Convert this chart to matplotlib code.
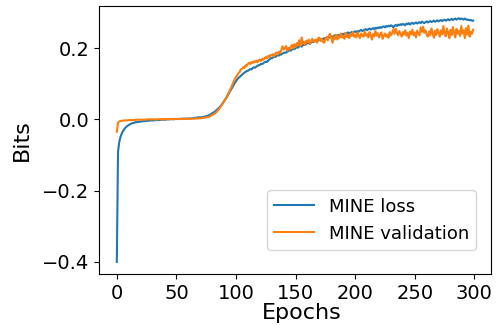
import numpy as np
import matplotlib
matplotlib.use("Agg")
import matplotlib.pyplot as plt

mine_loss = [
    -0.400, -0.092, -0.064, -0.050, -0.041, -0.034, -0.029, -0.024, -0.021, -0.018,
    -0.016, -0.014, -0.012, -0.011, -0.010, -0.009, -0.008, -0.008, -0.007, -0.007,
    -0.006, -0.006, -0.005, -0.005, -0.005, -0.004, -0.004, -0.004, -0.003, -0.003,
    -0.003, -0.003, -0.002, -0.002, -0.002, -0.002, -0.002, -0.001, -0.001, -0.001,
    -0.001, -0.001, 0.000, 0.000, 0.000, 0.000, 0.001, 0.000, 0.001, 0.001,
    0.001, 0.001, 0.001, 0.001, 0.002, 0.001, 0.002, 0.002, 0.002, 0.002,
    0.002, 0.003, 0.002, 0.003, 0.003, 0.004, 0.004, 0.005, 0.005, 0.006,
    0.005, 0.006, 0.006, 0.007, 0.008, 0.009, 0.010, 0.011, 0.013, 0.015,
    0.017, 0.019, 0.021, 0.024, 0.027, 0.030, 0.033, 0.037, 0.041, 0.046,
    0.051, 0.056, 0.061, 0.067, 0.073, 0.079, 0.085, 0.090, 0.096, 0.102,
    0.107, 0.112, 0.116, 0.119, 0.122, 0.125, 0.128, 0.131, 0.133, 0.136,
    0.136, 0.139, 0.141, 0.140, 0.144, 0.146, 0.145, 0.148, 0.150, 0.152,
    0.153, 0.156, 0.155, 0.158, 0.160, 0.162, 0.161, 0.165, 0.168, 0.172,
    0.171, 0.174, 0.176, 0.175, 0.178, 0.180, 0.179, 0.183, 0.182, 0.185,
    0.186, 0.188, 0.187, 0.190, 0.192, 0.194, 0.193, 0.196, 0.198, 0.197,
    0.200, 0.203, 0.201, 0.205, 0.206, 0.204, 0.208, 0.210, 0.209, 0.212,
    0.213, 0.215, 0.212, 0.216, 0.218, 0.217, 0.219, 0.221, 0.218, 0.222,
    0.224, 0.222, 0.226, 0.225, 0.228, 0.226, 0.229, 0.231, 0.229, 0.232,
    0.233, 0.231, 0.234, 0.236, 0.233, 0.235, 0.237, 0.236, 0.238, 0.240,
    0.238, 0.241, 0.239, 0.242, 0.244, 0.241, 0.243, 0.245, 0.243, 0.246,
    0.247, 0.244, 0.248, 0.246, 0.249, 0.251, 0.248, 0.250, 0.252, 0.253,
    0.250, 0.253, 0.255, 0.252, 0.254, 0.256, 0.253, 0.257, 0.255, 0.258,
    0.256, 0.259, 0.257, 0.260, 0.261, 0.258, 0.262, 0.260, 0.263, 0.261,
    0.264, 0.262, 0.258, 0.263, 0.265, 0.262, 0.266, 0.264, 0.267, 0.265,
    0.268, 0.266, 0.264, 0.269, 0.267, 0.270, 0.266, 0.269, 0.271, 0.268,
    0.270, 0.272, 0.269, 0.271, 0.273, 0.270, 0.274, 0.272, 0.270, 0.273,
    0.275, 0.272, 0.274, 0.276, 0.273, 0.275, 0.277, 0.274, 0.276, 0.278,
    0.275, 0.277, 0.279, 0.276, 0.278, 0.280, 0.277, 0.279, 0.281, 0.278,
    0.280, 0.282, 0.279, 0.281, 0.283, 0.280, 0.282, 0.284, 0.281, 0.283,
    0.282, 0.280, 0.283, 0.281, 0.279, 0.280, 0.278, 0.279, 0.277, 0.277,
]

mine_validation = [
    -0.035, -0.009, -0.006, -0.005, -0.004, -0.004, -0.003, -0.003, -0.003, -0.003,
    -0.002, -0.002, -0.002, -0.002, -0.002, -0.002, -0.001, -0.001, -0.001, -0.001,
    -0.001, -0.001, -0.001, -0.001, -0.001, 0.000, 0.000, 0.000, 0.000, 0.000,
    0.000, 0.000, 0.000, 0.000, 0.000, 0.000, 0.001, 0.000, 0.000, 0.001,
    0.000, 0.001, 0.001, 0.000, 0.001, 0.001, 0.001, 0.001, 0.000, 0.001,
    0.001, 0.001, 0.001, 0.001, 0.001, 0.001, 0.002, 0.001, 0.001, 0.002,
    0.001, 0.002, 0.001, 0.002, 0.002, 0.002, 0.002, 0.003, 0.002, 0.003,
    0.003, 0.003, 0.004, 0.004, 0.005, 0.006, 0.006, 0.007, 0.008, 0.010,
    0.012, 0.014, 0.016, 0.019, 0.022, 0.026, 0.030, 0.035, 0.040, 0.045,
    0.050, 0.056, 0.062, 0.069, 0.076, 0.083, 0.090, 0.098, 0.106, 0.113,
    0.119, 0.124, 0.129, 0.133, 0.140, 0.142, 0.146, 0.144, 0.152, 0.150,
    0.156, 0.159, 0.155, 0.161, 0.158, 0.163, 0.161, 0.165, 0.160, 0.166,
    0.168, 0.164, 0.170, 0.167, 0.172, 0.175, 0.171, 0.178, 0.176, 0.181,
    0.179, 0.183, 0.177, 0.185, 0.188, 0.182, 0.190, 0.186, 0.194, 0.205,
    0.196, 0.199, 0.206, 0.193, 0.201, 0.196, 0.204, 0.209, 0.199, 0.211,
    0.203, 0.214, 0.208, 0.222, 0.206, 0.230, 0.212, 0.218, 0.210, 0.221,
    0.216, 0.224, 0.213, 0.219, 0.226, 0.218, 0.222, 0.224, 0.215, 0.228,
    0.229, 0.220, 0.226, 0.217, 0.215, 0.225, 0.231, 0.222, 0.236, 0.240,
    0.228, 0.215, 0.232, 0.226, 0.238, 0.224, 0.233, 0.229, 0.241, 0.230,
    0.235, 0.226, 0.243, 0.231, 0.237, 0.228, 0.240, 0.234, 0.245, 0.232,
    0.238, 0.230, 0.244, 0.234, 0.228, 0.241, 0.236, 0.232, 0.246, 0.235,
    0.239, 0.230, 0.245, 0.236, 0.224, 0.240, 0.233, 0.248, 0.235, 0.242,
    0.230, 0.238, 0.244, 0.226, 0.234, 0.241, 0.232, 0.238, 0.229, 0.245,
    0.236, 0.242, 0.253, 0.240, 0.255, 0.243, 0.236, 0.248, 0.240, 0.232,
    0.245, 0.238, 0.250, 0.235, 0.243, 0.228, 0.247, 0.239, 0.252, 0.236,
    0.244, 0.230, 0.249, 0.241, 0.236, 0.258, 0.246, 0.260, 0.243, 0.250,
    0.238, 0.232, 0.247, 0.236, 0.255, 0.241, 0.229, 0.249, 0.237, 0.253,
    0.243, 0.232, 0.250, 0.239, 0.262, 0.240, 0.233, 0.255, 0.244, 0.228,
    0.251, 0.237, 0.259, 0.242, 0.230, 0.254, 0.240, 0.248, 0.234, 0.262,
    0.241, 0.250, 0.228, 0.256, 0.238, 0.263, 0.232, 0.246, 0.240, 0.252,
]

epochs = np.arange(len(mine_loss))
series_labels = ["MINE loss", "MINE validation"]
x_ticks = [0, 50, 100, 150, 200, 250, 300]
y_ticks = [-0.4, -0.2, 0.0, 0.2]

fig = plt.figure(figsize=(4.97, 3.26), dpi=100)
ax = fig.add_axes([99 / 497, 52 / 326, 392 / 497, 268 / 326])
ax.plot(epochs, mine_loss, color="#1f77b4", lw=1.5, label=series_labels[0])
ax.plot(epochs, mine_validation, color="#ff7f0e", lw=1.5, label=series_labels[1])

ax.set_xticks(x_ticks)
ax.set_yticks(y_ticks)
ax.tick_params(labelsize=14)
ax.set_xlabel("Epochs", fontsize=16)
ax.set_ylabel("Bits", fontsize=16, labelpad=7)
ax.xaxis.set_label_coords(0.518, -0.11)
ax.legend(loc="lower right", bbox_to_anchor=(0.962, 0.09), borderaxespad=0,
          fontsize=13, handlelength=2.2)

fig.savefig("out.png", dpi=100)
